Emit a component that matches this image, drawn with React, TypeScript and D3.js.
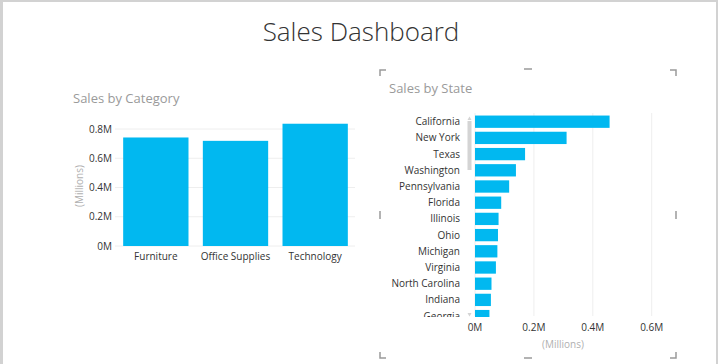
import React, { useEffect, useRef } from "react";
import * as d3 from "d3";

// category chart data (sales in millions)
const categories = ["Furniture", "Office Supplies", "Technology"];
const categorySales = [0.742, 0.719, 0.836];
const categoryTicks = [0, 0.2, 0.4, 0.6, 0.8];

// state chart data (sales in millions)
const states = [
  "California",
  "New York",
  "Texas",
  "Washington",
  "Pennsylvania",
  "Florida",
  "Illinois",
  "Ohio",
  "Michigan",
  "Virginia",
  "North Carolina",
  "Indiana",
  "Georgia",
];
const stateSales = [
  0.457, 0.311, 0.17, 0.139, 0.116, 0.089, 0.08, 0.078, 0.076, 0.071, 0.056,
  0.054, 0.049,
];
const stateTicks = [0, 0.2, 0.4, 0.6];

const FONT = "'Segoe UI', 'Open Sans', sans-serif";
const BAR = "#01b8f0";
const fmt = (d: number) => (d === 0 ? "0M" : `${d}M`);

const App = () => {
  const ref = useRef<SVGSVGElement>(null);

  useEffect(() => {
    const svg = d3.select(ref.current);
    svg.selectAll("*").remove();

    // frame
    svg.append("rect").attr("width", 718).attr("height", 364).attr("fill", "#d2d2d2");
    svg.append("rect").attr("x", 3).attr("y", 2).attr("width", 713).attr("height", 362).attr("fill", "#fff");

    svg
      .append("text")
      .attr("x", 361)
      .attr("y", 41)
      .attr("text-anchor", "middle")
      .attr("font-family", FONT)
      .attr("font-weight", 300)
      .attr("font-size", 26)
      .attr("fill", "#333")
      .text("Sales Dashboard");

    // ---- Sales by Category ----
    const left = svg.append("g");
    left
      .append("text")
      .attr("x", 73)
      .attr("y", 103)
      .attr("font-family", FONT)
      .attr("font-size", 13)
      .attr("fill", "#9a9a9a")
      .text("Sales by Category");

    const x = d3.scaleBand().domain(categories).range([116, 355]).paddingInner(0.18).paddingOuter(0.09);
    const y = d3.scaleLinear().domain([0, 0.8]).range([246, 129]);

    left
      .append("g")
      .selectAll("line")
      .data(categoryTicks)
      .join("line")
      .attr("x1", 115)
      .attr("x2", 355)
      .attr("y1", (d) => y(d))
      .attr("y2", (d) => y(d))
      .attr("stroke", "#eeeeee");

    left
      .append("g")
      .selectAll("text")
      .data(categoryTicks)
      .join("text")
      .attr("x", 112)
      .attr("y", (d) => y(d))
      .attr("dy", "0.35em")
      .attr("text-anchor", "end")
      .attr("font-family", FONT)
      .attr("font-size", 10)
      .attr("fill", "#333")
      .text(fmt);

    left
      .append("text")
      .attr("transform", `translate(83,186) rotate(-90)`)
      .attr("text-anchor", "middle")
      .attr("font-family", FONT)
      .attr("font-size", 10)
      .attr("fill", "#b0b0b0")
      .text("(Millions)");

    left
      .append("g")
      .selectAll("rect")
      .data(categories)
      .join("rect")
      .attr("x", (d) => x(d)!)
      .attr("width", x.bandwidth())
      .attr("y", (d, i) => y(categorySales[i]))
      .attr("height", (d, i) => y(0) - y(categorySales[i]))
      .attr("fill", BAR);

    left
      .append("g")
      .selectAll("text")
      .data(categories)
      .join("text")
      .attr("x", (d) => x(d)! + x.bandwidth() / 2)
      .attr("y", 256)
      .attr("dy", "0.35em")
      .attr("text-anchor", "middle")
      .attr("font-family", FONT)
      .attr("font-size", 10)
      .attr("fill", "#333")
      .text((d) => d);

    // ---- Sales by State ----
    const right = svg.append("g");

    // focus corner marks
    const marks = right.append("g").attr("stroke", "#9a9a9a").attr("stroke-width", 1.5).attr("fill", "none");
    const c = [
      "M380,76V70H386",
      "M670,70H676V76",
      "M380,352V358H386",
      "M670,358H676V352",
      "M524,69H532",
      "M524,358H532",
      "M380,211V219",
      "M676,211V219",
    ];
    marks.selectAll("path").data(c).join("path").attr("d", (d) => d);

    right
      .append("text")
      .attr("x", 389)
      .attr("y", 93)
      .attr("font-family", FONT)
      .attr("font-size", 13)
      .attr("fill", "#9a9a9a")
      .text("Sales by State");

    const sx = d3.scaleLinear().domain([0, 0.6]).range([475, 651.7]);
    const sy = d3.scaleBand().domain(states).range([113.6, 324.2]).paddingInner(0.24).paddingOuter(0.12);

    right
      .append("clipPath")
      .attr("id", "stateClip")
      .append("rect")
      .attr("x", 380)
      .attr("y", 110)
      .attr("width", 300)
      .attr("height", 207);

    right
      .append("g")
      .selectAll("line")
      .data(stateTicks)
      .join("line")
      .attr("x1", (d) => sx(d))
      .attr("x2", (d) => sx(d))
      .attr("y1", 113)
      .attr("y2", 316)
      .attr("stroke", "#eeeeee");

    const body = right.append("g").attr("clip-path", "url(#stateClip)");
    body
      .selectAll("rect")
      .data(states)
      .join("rect")
      .attr("x", sx(0))
      .attr("y", (d) => sy(d)!)
      .attr("height", sy.bandwidth())
      .attr("width", (d, i) => sx(stateSales[i]) - sx(0))
      .attr("fill", BAR);

    body
      .selectAll("text")
      .data(states)
      .join("text")
      .attr("x", 460)
      .attr("y", (d) => sy(d)! + sy.bandwidth() / 2)
      .attr("dy", "0.35em")
      .attr("text-anchor", "end")
      .attr("font-family", FONT)
      .attr("font-size", 10)
      .attr("fill", "#333")
      .text((d) => d);

    // scrollbar
    right.append("rect").attr("x", 467.5).attr("y", 121).attr("width", 4).attr("height", 49).attr("fill", "#d4d4d4");
    right.append("path").attr("d", "M467.5,120L469.5,116.5L471.5,120Z").attr("fill", "#d4d4d4");
    right.append("path").attr("d", "M467.5,313L469.5,316.5L471.5,313Z").attr("fill", "#d4d4d4");

    right
      .append("g")
      .selectAll("text")
      .data(stateTicks)
      .join("text")
      .attr("x", (d) => sx(d))
      .attr("y", 327)
      .attr("dy", "0.35em")
      .attr("text-anchor", "middle")
      .attr("font-family", FONT)
      .attr("font-size", 10)
      .attr("fill", "#333")
      .text(fmt);

    right
      .append("text")
      .attr("x", 563)
      .attr("y", 344)
      .attr("dy", "0.35em")
      .attr("text-anchor", "middle")
      .attr("font-family", FONT)
      .attr("font-size", 10)
      .attr("fill", "#b0b0b0")
      .text("(Millions)");
  }, []);

  return (
    <svg
      ref={ref}
      width={718}
      height={364}
      style={{ position: "fixed", top: 0, left: 0 }}
    ></svg>
  );
};

export default App;
